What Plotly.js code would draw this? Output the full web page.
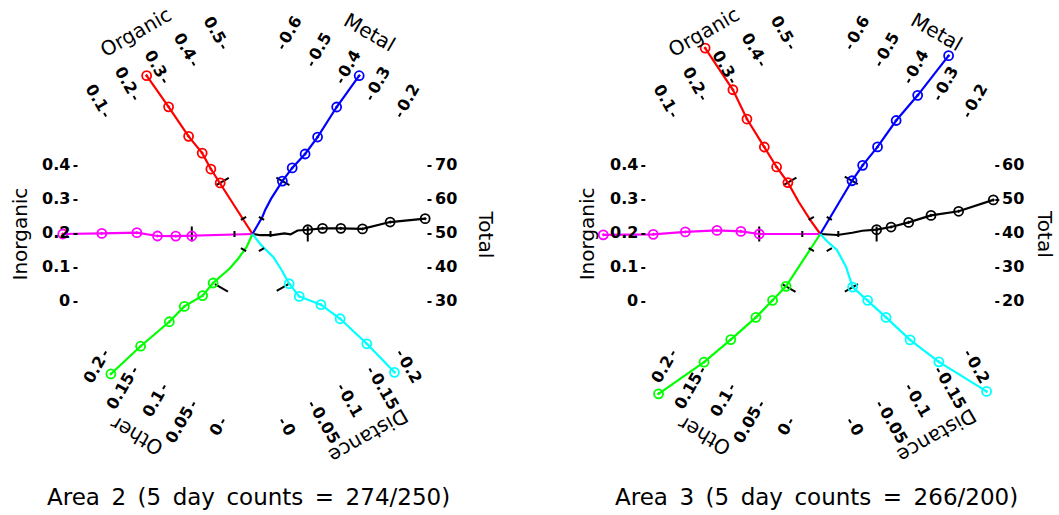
<!DOCTYPE html>
<html><head><meta charset="utf-8">
<script src="https://cdn.plot.ly/plotly-3.0.1.min.js"></script>
<style>html,body{margin:0;padding:0;background:#fff}#chart{width:1059px;height:515px}</style>
</head><body><div id="chart"></div>
<script>
// ---------------- data ----------------
const panelTitles = ['Area 2 (5 day counts = 274/250)', 'Area 3 (5 day counts = 266/200)'];
const variables = ['Organic', 'Metal', 'Total', 'Inorganic', 'Other', 'Distance'];

// value-axis tick labels
const organicTicks = [0.1, 0.2, 0.3, 0.4, 0.5];
const metalTicks = [0.2, 0.3, 0.4, 0.5, 0.6];
const totalTicksA2 = [30, 40, 50, 60, 70];
const totalTicksA3 = [20, 30, 40, 50, 60];
const inorganicTicks = [0, 0.1, 0.2, 0.3, 0.4];
const otherTicks = [0, 0.05, 0.1, 0.15, 0.2];
const distanceTicks = [0, 0.05, 0.1, 0.15, 0.2];

// series: radial coordinate (value axes sit at radial 10) and value
// "Path" arrays = unmarked inner part of each trace
const a2OrganicPathR = [0, 1.0];               const a2OrganicPathV = [0.28, 0.28];
const a2OrganicR = [3.43, 4.38, 5.41, 6.62, 8.64, 10.80];
const a2OrganicV = [0.279, 0.276, 0.283, 0.271, 0.269, 0.266];
const a2MetalPathR = [0, 0.70, 1.13, 1.56, 2.27]; const a2MetalPathV = [0.40, 0.40, 0.40, 0.42, 0.42];
const a2MetalR = [3.45, 4.38, 5.43, 6.62, 8.64, 10.82];
const a2MetalV = [0.405, 0.391, 0.370, 0.365, 0.368, 0.364];
const a2TotalPathR = [0, 0.45, 1.14, 1.82, 2.16, 2.56]; const a2TotalPathV = [50, 42, 47, 51, 49.5, 54];
const a2TotalR = [3.14, 3.98, 5.02, 6.25, 7.82, 9.81];
const a2TotalV = [54.0, 54.2, 53.3, 52.4, 54.5, 54.6];
const a2InorganicPathR = [0, 1.70];           const a2InorganicPathV = [0.185, 0.185];
const a2InorganicR = [3.45, 4.36, 5.40, 6.57, 8.56, 10.78];
const a2InorganicV = [0.183, 0.186, 0.189, 0.206, 0.202, 0.200];
const a2OtherPathR = [0, 0.80, 1.59, 2.33];   const a2OtherPathV = [0.075, 0.075, 0.10, 0.115];
const a2OtherR = [3.53, 4.45, 5.50, 6.68, 8.70, 10.91];
const a2OtherV = [0.140, 0.141, 0.161, 0.162, 0.169, 0.171];
const a2DistancePathR = [0, 0.71, 1.74, 2.63]; const a2DistancePathV = [0.13, 0.134, 0.155, 0.14];
const a2DistanceR = [3.49, 4.40, 5.42, 6.66, 8.65, 10.84];
const a2DistanceV = [0.129, 0.131, 0.165, 0.174, 0.175, 0.173];

const a3OrganicPathR = [0, 0.97, 2.22];       const a3OrganicPathV = [0.25, 0.25, 0.265];
const a3OrganicR = [3.45, 4.54, 5.87, 7.74, 9.58, 12.42];
const a3OrganicV = [0.280, 0.272, 0.275, 0.277, 0.289, 0.284];
const a3MetalPathR = [0];                     const a3MetalPathV = [0.395];
const a3MetalR = [3.52, 4.58, 5.91, 7.74, 9.59, 12.42];
const a3MetalV = [0.393, 0.385, 0.370, 0.366, 0.354, 0.348];
const a3TotalPathR = [0, 0.45, 0.97, 1.82, 2.39]; const a3TotalPathV = [40, 38, 37, 42, 44];
const a3TotalR = [3.20, 4.02, 5.02, 6.29, 7.86, 9.83];
const a3TotalV = [44.0, 45.1, 46.8, 48.7, 48.5, 50.2];
const a3InorganicPathR = [0];                 const a3InorganicPathV = [0.2];
const a3InorganicR = [3.47, 4.51, 5.87, 7.67, 9.49, 12.33];
const a3InorganicV = [0.200, 0.217, 0.218, 0.208, 0.199, 0.198];
const a3OtherPathR = [0];                     const a3OtherPathV = [0.11];
const a3OtherR = [3.55, 4.62, 5.93, 7.74, 9.61, 12.46];
const a3OtherV = [0.1145, 0.126, 0.135, 0.147, 0.156, 0.171];
const a3DistancePathR = [0, 0.57, 1.26, 2.34]; const a3DistancePathV = [0.16, 0.16, 0.175, 0.137];
const a3DistanceR = [3.53, 4.61, 5.97, 7.76, 9.66, 12.47];
const a3DistanceV = [0.106, 0.125, 0.1375, 0.147, 0.159, 0.177];

// ---------------- layout / style ----------------
const W = 1059, H = 515;
const centers = [[252.5, 234], [820.3, 234]];
const AXIS_PX = 176, RADIAL_AXIS = 10, STEP_PX = 34, TITLE_PX = 233;
const rayDeg = {Organic: 120, Metal: 60, Total: 0, Inorganic: 180, Other: 240, Distance: 300};
const colors = {Organic: '#ff0000', Metal: '#0000ff', Total: '#000000', Inorganic: '#ff00ff', Other: '#00ff00', Distance: '#00ffff'};

const panels = [
  {title: panelTitles[0], ticks: {Organic: organicTicks, Metal: metalTicks, Total: totalTicksA2, Inorganic: inorganicTicks, Other: otherTicks, Distance: distanceTicks},
   series: {
     Organic: [a2OrganicPathR, a2OrganicPathV, a2OrganicR, a2OrganicV],
     Metal: [a2MetalPathR, a2MetalPathV, a2MetalR, a2MetalV],
     Total: [a2TotalPathR, a2TotalPathV, a2TotalR, a2TotalV],
     Inorganic: [a2InorganicPathR, a2InorganicPathV, a2InorganicR, a2InorganicV],
     Other: [a2OtherPathR, a2OtherPathV, a2OtherR, a2OtherV],
     Distance: [a2DistancePathR, a2DistancePathV, a2DistanceR, a2DistanceV]}},
  {title: panelTitles[1], ticks: {Organic: organicTicks, Metal: metalTicks, Total: totalTicksA3, Inorganic: inorganicTicks, Other: otherTicks, Distance: distanceTicks},
   series: {
     Organic: [a3OrganicPathR, a3OrganicPathV, a3OrganicR, a3OrganicV],
     Metal: [a3MetalPathR, a3MetalPathV, a3MetalR, a3MetalV],
     Total: [a3TotalPathR, a3TotalPathV, a3TotalR, a3TotalV],
     Inorganic: [a3InorganicPathR, a3InorganicPathV, a3InorganicR, a3InorganicV],
     Other: [a3OtherPathR, a3OtherPathV, a3OtherR, a3OtherV],
     Distance: [a3DistancePathR, a3DistancePathV, a3DistanceR, a3DistanceV]}}
];

function frame(name) {
  const th = rayDeg[name] * Math.PI / 180;
  const ux = Math.cos(th), uy = -Math.sin(th);
  const right = Math.cos(th) > 0.1;
  const nth = th + (right ? Math.PI / 2 : -Math.PI / 2);
  return {ux, uy, nx: Math.cos(nth), ny: -Math.sin(nth), right};
}
function pt(c, f, t, o) { return [c[0] + t * f.ux + o * f.nx, c[1] + t * f.uy + o * f.ny]; }
function norm(a) { while (a > 180) a -= 360; while (a <= -180) a += 360; return a; }
function textW(s, size) { let w = 0; for (const ch of s) w += (ch === '.' ? 0.38 : 0.696); return w * size; }

const traces = [], annotations = [];
const FONT = 'DejaVu Sans, Verdana, sans-serif';

panels.forEach((p, pi) => {
  const c = centers[pi];
  const tickX = [], tickY = [];
  const seg = (a, b) => { tickX.push(a[0], b[0], null); tickY.push(a[1], b[1], null); };
  const markerTraces = [];
  variables.forEach(name => {
    const f = frame(name);
    const ticks = p.ticks[name];
    const vmid = ticks[2], step = ticks[1] - ticks[0];
    const map = (r, v) => {
      const t = r / RADIAL_AXIS * AXIS_PX;
      const o = (v - vmid) / step * STEP_PX * t / AXIS_PX;
      return pt(c, f, t, o);
    };
    const [pr, pv, mr, mv] = p.series[name];
    const allR = pr.concat(mr), allV = pv.concat(mv);
    const lx = [], ly = [];
    allR.forEach((r, i) => { const q = map(r, allV[i]); lx.push(q[0]); ly.push(q[1]); });
    traces.push({x: lx, y: ly, mode: 'lines', line: {color: colors[name], width: 2.2}, hoverinfo: 'skip'});
    const mx = [], my = [];
    mr.forEach((r, i) => { const q = map(r, mv[i]); mx.push(q[0]); my.push(q[1]); });
    markerTraces.push({x: mx, y: my, mode: 'markers', marker: {symbol: 'circle-open-dot', size: 9, color: colors[name], line: {width: 1.8, color: colors[name]}}, hoverinfo: 'skip'});

    // reference ticks on the ray: at the first marked radius (large) and a small inner one
    const tBig = mr[0] / RADIAL_AXIS * AXIS_PX;
    seg(pt(c, f, tBig, -7.5), pt(c, f, tBig, 7.5));
    seg(pt(c, f, 18, -3), pt(c, f, 18, 3));

    // value axis ticks & labels
    const lblAngle = norm(f.right ? -rayDeg[name] : 180 - rayDeg[name]);
    ticks.forEach(tv => {
      const o = (tv - vmid) / step * STEP_PX;
      seg(pt(c, f, AXIS_PX - 1, o), pt(c, f, AXIS_PX + 3, o));
      const s = String(tv);
      const w = textW(s, 16);
      const q = pt(c, f, AXIS_PX + 6 + w / 2, o + 1.5);
      annotations.push({x: q[0], y: q[1], xref: 'x', yref: 'y', text: s, showarrow: false,
        textangle: lblAngle, xanchor: 'center', yanchor: 'middle',
        font: {family: FONT, size: 16, color: '#000', weight: 'bold'}});
    });
    const tq = pt(c, f, TITLE_PX, 0);
    tq[0] = Math.min(Math.max(tq[0], 14), W - 14);
    annotations.push({x: tq[0], y: tq[1], xref: 'x', yref: 'y', text: name, showarrow: false,
      textangle: norm(90 - rayDeg[name]), xanchor: 'center', yanchor: 'middle',
      font: {family: FONT, size: 20, color: '#000'}});
  });
  traces.push({x: tickX, y: tickY, mode: 'lines', line: {color: '#000', width: 2}, hoverinfo: 'skip', connectgaps: false});
  markerTraces.forEach(m => traces.push(m));
  annotations.push({x: c[0] - 4, y: 497, xref: 'x', yref: 'y', text: p.title.replace(/ /g, '\u2002'), showarrow: false,
    xanchor: 'center', yanchor: 'middle', font: {family: FONT, size: 23, color: '#000'}});
});

const layout = {
  width: W, height: H, margin: {l: 0, r: 0, t: 0, b: 0, pad: 0},
  paper_bgcolor: '#fff', plot_bgcolor: '#fff', showlegend: false,
  xaxis: {range: [0, W], visible: false, fixedrange: true},
  yaxis: {range: [H, 0], visible: false, fixedrange: true},
  annotations: annotations
};
Plotly.newPlot('chart', traces, layout, {displayModeBar: false, staticPlot: true});
</script></body></html>
